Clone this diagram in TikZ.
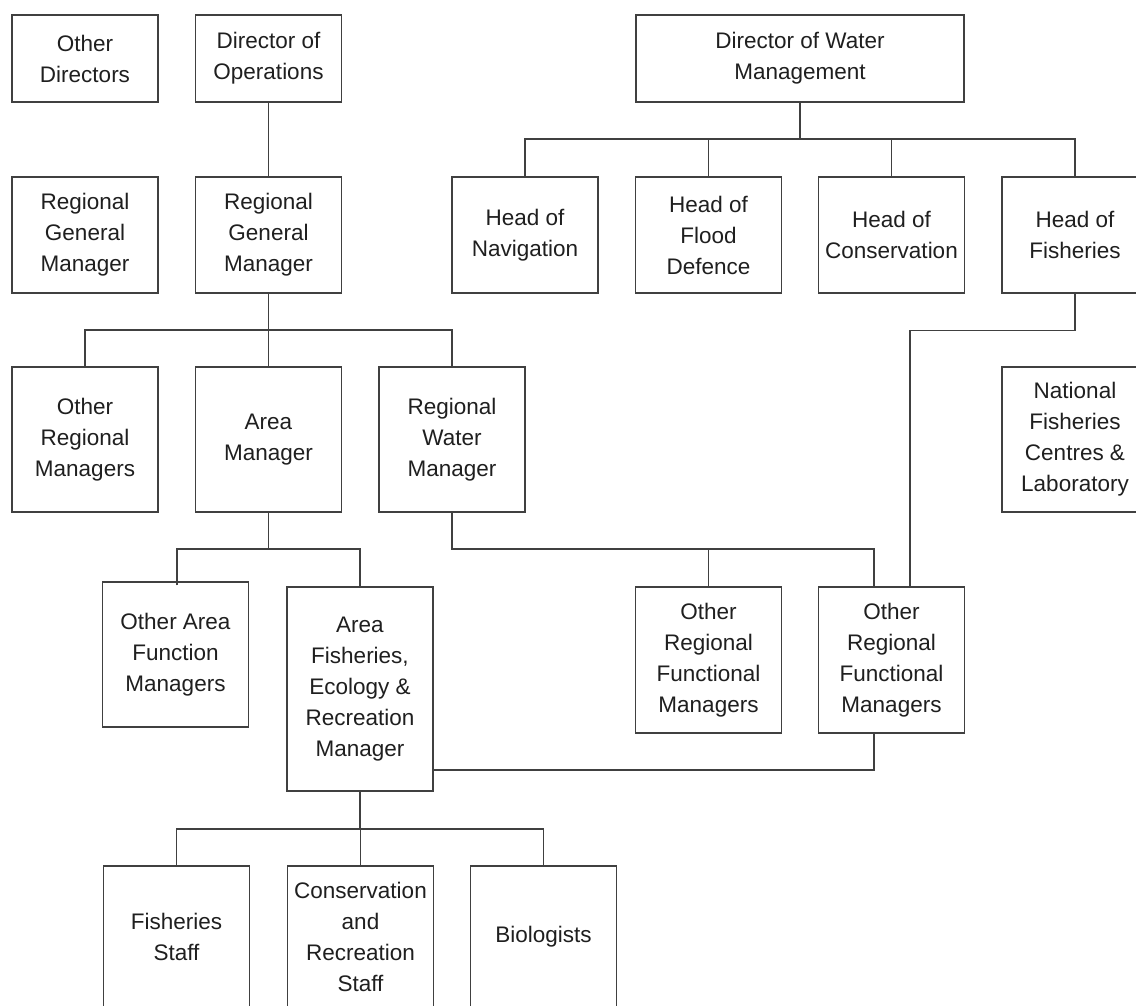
\documentclass[tikz,border=0pt]{standalone}
\usepackage{fontspec}
\setmainfont{Liberation Sans}
\begin{document}
\begin{tikzpicture}[x=1pt,y=-1pt,
  box/.style={draw=black!75, line width=1.2pt, fill=white, minimum width=146pt, inner sep=0pt, align=center, text=black!88, font=\fontsize{22.5}{31}\selectfont},
  conn/.style={draw=black!75, line width=1.2pt}]
\useasboundingbox (0,0) rectangle (1136,1005);
\clip (0,0) rectangle (1136,1005);
% row 1
\node[box, minimum height=87pt] (od) at (85,58.5) {Other\\Directors};
\node[box, minimum height=87pt] (dop) at (268.5,58.5) {Director of\\Operations};
\node[box, minimum height=87pt, minimum width=328pt] (dwm) at (800,58.5) {Director of Water\\Management};
% row 2
\node[box, minimum height=116pt] (rgm1) at (85,235) {Regional\\General\\Manager};
\node[box, minimum height=116pt] (rgm2) at (268.5,235) {Regional\\General\\Manager};
\node[box, minimum height=116pt] (nav) at (525,235) {Head of\\Navigation};
\node[box, minimum height=116pt] (flood) at (708.5,235) {Head of\\Flood\\Defence};
\node[box, minimum height=116pt] (hcons) at (891.5,235) {Head of\\Conservation};
\node[box, minimum height=116pt] (hfish) at (1075,235) {Head of\\Fisheries};
% row 3
\node[box, minimum height=145pt] (orm) at (85,439.5) {Other\\Regional\\Managers};
\node[box, minimum height=145pt] (am) at (268.5,439.5) {Area\\Manager};
\node[box, minimum height=145pt] (rwm) at (452,439.5) {Regional\\Water\\Manager};
\node[box, minimum height=145pt] (nfc) at (1075,439.5) {National\\Fisheries\\Centres \&\\Laboratory};
% row 4
\node[box, minimum height=145pt] (oafm) at (175.5,654.5) {Other Area\\Function\\Managers};
\node[box, minimum height=204pt] (aferm) at (360,689) {Area\\Fisheries,\\Ecology \&\\Recreation\\Manager};
\node[box, minimum height=146pt] (rfm1) at (708.5,660) {Other\\Regional\\Functional\\Managers};
\node[box, minimum height=146pt] (rfm2) at (891.5,660) {Other\\Regional\\Functional\\Managers};
% row 5
\node[box, minimum height=141pt] (fs) at (176.5,936.5) {Fisheries\\Staff};
\node[box, minimum height=141pt] (crs) at (360.5,936.5) {Conservation\\and\\Recreation\\Staff};
\node[box, minimum height=141pt] (bio) at (543.5,936.5) {Biologists};
% connectors
\coordinate (bus1) at (268.5,330);
\draw[conn] (dop) -- (rgm2);
\draw[conn] (rgm2.south) -- (bus1);
\draw[conn] (orm.north) |- (bus1);
\draw[conn] (am.north) -- (bus1);
\draw[conn] (rwm.north) |- (bus1);
\coordinate (bus2) at (800,139);
\draw[conn] (dwm.south) -- (bus2);
\draw[conn] (nav.north) |- (bus2);
\draw[conn] (flood.north) |- (bus2);
\draw[conn] (hcons.north) |- (bus2);
\draw[conn] (hfish.north) |- (bus2);
\coordinate (rfm2b) at ([xshift=18.5pt]rfm2.north);
\draw[conn] (hfish.south) -- ++(0,37) -| (rfm2b);
\coordinate (bus3) at (268.5,549);
\draw[conn] (am.south) -- (bus3);
\draw[conn] ([yshift=-4pt,xshift=1.5pt]oafm.north) |- (bus3);
\draw[conn] (aferm.north) |- (bus3);
\coordinate (rfm2a) at ([xshift=-17.5pt]rfm2.north);
\draw[conn] (rwm.south) |- (rfm2a |- bus3) -- (rfm2a);
\draw[conn] (rfm1.north) -- (rfm1.north |- bus3);
\coordinate (rfm2c) at ([xshift=-17.5pt]rfm2.south);
\coordinate (afermr) at ([yshift=-81pt]aferm.east);
\draw[conn] (rfm2c) |- (afermr);
\coordinate (bus5) at (360,829);
\draw[conn] (aferm.south) -- (bus5);
\draw[conn] (fs.north) |- (bus5);
\draw[conn] (crs.north) |- (bus5);
\draw[conn] (bio.north) |- (bus5);
\end{tikzpicture}
\end{document}
